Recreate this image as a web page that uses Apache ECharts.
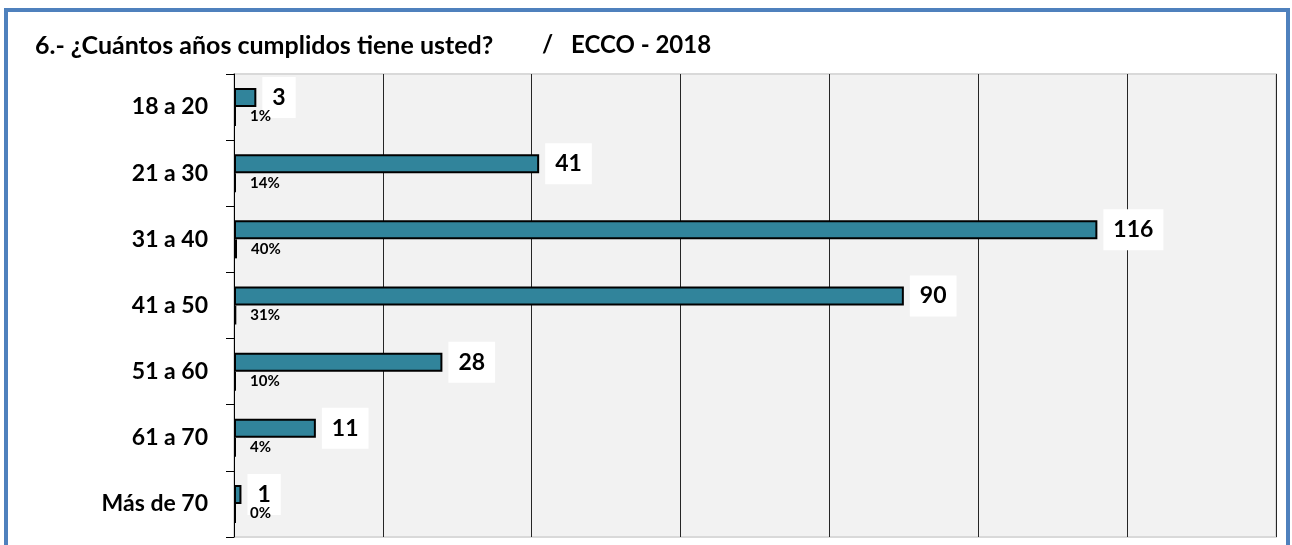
<!DOCTYPE html>
<html>
<head>
<meta charset="utf-8">
<script src="https://cdn.jsdelivr.net/npm/echarts@6/dist/echarts.min.js"></script>
<style>
html,body{margin:0;padding:0;background:#fff;}
#chart{width:1292px;height:545px;}
</style>
</head>
<body>
<div id="chart"></div>
<script>
var titleParts = ['6.- ¿Cuántos años cumplidos tiene usted?', '/', 'ECCO - 2018'];
var categories = ['18 a 20', '21 a 30', '31 a 40', '41 a 50', '51 a 60', '61 a 70', 'Más de 70'];
var counts = [3, 41, 116, 90, 28, 11, 1];
var percents = [1, 14, 40, 31, 10, 4, 0];

var FONT = 'Lato, "Open Sans", sans-serif';
var titleLefts = [35, 542, 571];
var titleSizes = [25, 24, 24];
var chart = echarts.init(document.getElementById('chart'), null, {renderer: 'canvas'});
chart.setOption({
  animation: false,
  backgroundColor: '#ffffff',
  graphic: [{
    type: 'rect', z: -10, silent: true,
    shape: {x: 6, y: 10, width: 1282, height: 600},
    style: {fill: '#ffffff', stroke: '#4f81bd', lineWidth: 4}
  }],
  title: titleParts.map(function (t, i) {
    return {
      text: t, left: titleLefts[i], top: 33, padding: 0,
      textStyle: {fontFamily: FONT, fontSize: titleSizes[i], fontWeight: 'bold', color: '#000'}
    };
  }),
  grid: {
    left: 234, right: 16, top: 74, bottom: 8,
    show: true, backgroundColor: '#f2f2f2', borderColor: '#d9d9d9', borderWidth: 2
  },
  xAxis: {
    type: 'value', min: 0, max: 140, interval: 20,
    axisLine: {show: false}, axisTick: {show: false}, axisLabel: {show: false},
    splitLine: {show: true, lineStyle: {color: '#262626', width: 1}}
  },
  yAxis: {
    type: 'category', data: categories, inverse: true,
    axisLine: {show: true, lineStyle: {color: '#000', width: 1}},
    axisTick: {show: true, length: 8, lineStyle: {color: '#000'}},
    axisLabel: {margin: 26, fontFamily: FONT, fontSize: 23, fontWeight: 'bold', color: '#000'}
  },
  series: [{
    type: 'bar', data: counts, barWidth: 19, barGap: '0%', barCategoryGap: '40%',
    itemStyle: {color: '#31849b', borderColor: '#000', borderWidth: 2},
    label: {
      show: true, position: 'right', distance: 6,
      backgroundColor: '#ffffff', padding: [9, 10],
      fontFamily: FONT, fontSize: 23, fontWeight: 'bold', color: '#000'
    },
    z: 2
  }, {
    type: 'bar', barWidth: 19, barMinHeight: 2,
    data: percents.map(function (p) { return p / 100; }),
    itemStyle: {color: '#000'},
    label: {
      show: true, position: 'right', distance: 14,
      formatter: function (p) { return percents[p.dataIndex] + '%'; },
      fontFamily: FONT, fontSize: 15, fontWeight: 'bold', color: '#000'
    },
    z: 3
  }]
});
</script>
</body>
</html>
